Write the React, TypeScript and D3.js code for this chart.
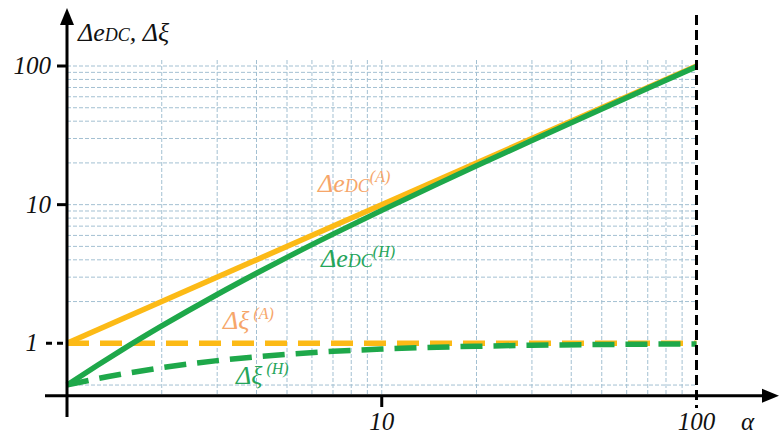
import React from "react";
import * as d3 from "d3";

// data
const alphaA = [1, 100];
const eDcA = [1, 100];
const xiA = [1, 1];

const alphaH = [1, 1.25, 1.5, 2, 3, 4, 5, 7, 10, 15, 20, 30, 50, 70, 100];
const eDcH = [0.5, 0.694, 0.9, 1.333, 2.25, 3.2, 4.17, 6.13, 9.09, 14.06, 19.05, 29.03, 49.02, 69.01, 99.0];
const xiH = [0.5, 0.556, 0.6, 0.667, 0.75, 0.8, 0.833, 0.875, 0.909, 0.937, 0.952, 0.968, 0.98, 0.986, 0.99];

const xGrid = [2, 3, 4, 5, 6, 7, 8, 9, 10, 20, 30, 40, 50, 60, 70, 80, 90];
const yGrid = [0.5, 2, 3, 4, 5, 6, 7, 8, 9, 10, 20, 30, 40, 50, 60, 70, 80, 90, 100];
const xTickLabels = [10, 100];
const yTickLabels = [1, 10, 100];

const W = 779;
const H = 437;

const GOLD = "#fcba16";
const GREEN = "#1ea84a";
const ORANGE_TXT = "#f6a66a";
const GREEN_TXT = "#25a55a";
const GRID = "#a3c0d2";
const FONT = "Liberation Serif, DejaVu Serif, serif";

const tStyle = (size: number, color: string): React.CSSProperties => ({
  fontFamily: FONT,
  fontStyle: "italic",
  fontSize: size,
  fill: color,
});

export default function App() {
  const x = d3.scaleLog().domain([1, 100]).range([67, 696.5]);
  const y = d3.scaleLog().domain([1, 100]).range([343.3, 66]);
  const yBottom = 395.7;
  const yGridTop = 60;

  const lineA = d3
    .line<number>()
    .x((_, i) => x(alphaA[i]))
    .y((d) => y(d));
  const lineH = d3
    .line<number>()
    .x((_, i) => x(alphaH[i]))
    .y((d) => y(d))
    .curve(d3.curveMonotoneX);

  const sup = (t: string, dx = 0) => (
    <tspan style={{ fontSize: 16 }} dx={dx} dy={-10}>
      {t}
    </tspan>
  );

  const eDcLabel = (xx: number, yy: number, color: string, s: string) => (
    <text x={xx} y={yy} style={tStyle(26, color)}>
      Δe
      <tspan style={{ fontSize: 18 }}>DC</tspan>
      {sup(s)}
    </text>
  );

  return (
    <svg
      width={W}
      height={H}
      style={{ position: "absolute", left: 0, top: 0, background: "#fff" }}
    >
      {/* grid */}
      <g stroke={GRID} strokeWidth={1} strokeDasharray="4,2" fill="none">
        {xGrid.map((v) => (
          <line key={"gx" + v} x1={x(v)} x2={x(v)} y1={yGridTop} y2={yBottom} />
        ))}
        {yGrid.map((v) => (
          <line key={"gy" + v} x1={x(1)} x2={x(100)} y1={y(v)} y2={y(v)} />
        ))}
      </g>

      {/* series */}
      <path
        d={lineA(xiA) || ""}
        fill="none"
        stroke={GOLD}
        strokeWidth={5.5}
        strokeDasharray="22,11"
      />
      <path d={lineA(eDcA) || ""} fill="none" stroke={GOLD} strokeWidth={5.5} />
      <path
        d={lineH(xiH) || ""}
        fill="none"
        stroke={GREEN}
        strokeWidth={5.5}
        strokeDasharray="22,11"
      />
      <path d={lineH(eDcH) || ""} fill="none" stroke={GREEN} strokeWidth={5.5} />

      {/* axes */}
      <line x1={x(1)} x2={x(1)} y1={417} y2={20} stroke="#000" strokeWidth={3} />
      <polygon points={`${x(1)},8 ${x(1) - 7},25 ${x(1) + 7},25`} fill="#000" />
      <line x1={45} x2={766} y1={yBottom} y2={yBottom} stroke="#000" strokeWidth={3} />
      <polygon
        points={`779,${yBottom} 762,${yBottom - 7} 762,${yBottom + 7}`}
        fill="#000"
      />

      {/* x = 100 boundary */}
      <line
        x1={x(100)}
        x2={x(100)}
        y1={15}
        y2={408}
        stroke="#000"
        strokeWidth={3}
        strokeDasharray="10,5"
      />

      {/* y ticks */}
      {yTickLabels.map((v) =>
        v === 1 ? (
          <line
            key={"yt" + v}
            x1={46}
            x2={x(1)}
            y1={y(v)}
            y2={y(v)}
            stroke="#000"
            strokeWidth={3}
            strokeDasharray="6,5"
          />
        ) : (
          <line
            key={"yt" + v}
            x1={57}
            x2={x(1)}
            y1={y(v)}
            y2={y(v)}
            stroke="#000"
            strokeWidth={3}
          />
        )
      )}
      {yTickLabels.map((v) => (
        <text
          key={"yl" + v}
          x={v === 1 ? 38 : 51}
          y={y(v) + 8}
          textAnchor="end"
          style={tStyle(25, "#111")}
        >
          {v}
        </text>
      ))}

      {/* x ticks */}
      {xTickLabels
        .filter((v) => v !== 100)
        .map((v) => (
          <line
            key={"xt" + v}
            x1={x(v)}
            x2={x(v)}
            y1={yBottom}
            y2={407}
            stroke="#000"
            strokeWidth={3}
          />
        ))}
      {xTickLabels.map((v) => (
        <text
          key={"xl" + v}
          x={x(v)}
          y={430}
          textAnchor="middle"
          style={tStyle(25, "#111")}
        >
          {v}
        </text>
      ))}
      <text x={741} y={430} style={tStyle(25, "#111")}>
        α
      </text>

      {/* y axis title */}
      <text x={78} y={41} style={tStyle(26, "#111")}>
        Δe<tspan style={{ fontSize: 18 }}>DC</tspan>, Δξ
      </text>

      {/* series labels */}
      {eDcLabel(318, 192, ORANGE_TXT, "(A)")}
      {eDcLabel(321, 267, GREEN_TXT, "(H)")}
      <text x={223} y={329} style={tStyle(26, ORANGE_TXT)}>
        Δξ{sup("(A)", 4)}
      </text>
      <text x={236} y={384} style={tStyle(26, GREEN_TXT)}>
        Δξ{sup("(H)", 4)}
      </text>
    </svg>
  );
}
